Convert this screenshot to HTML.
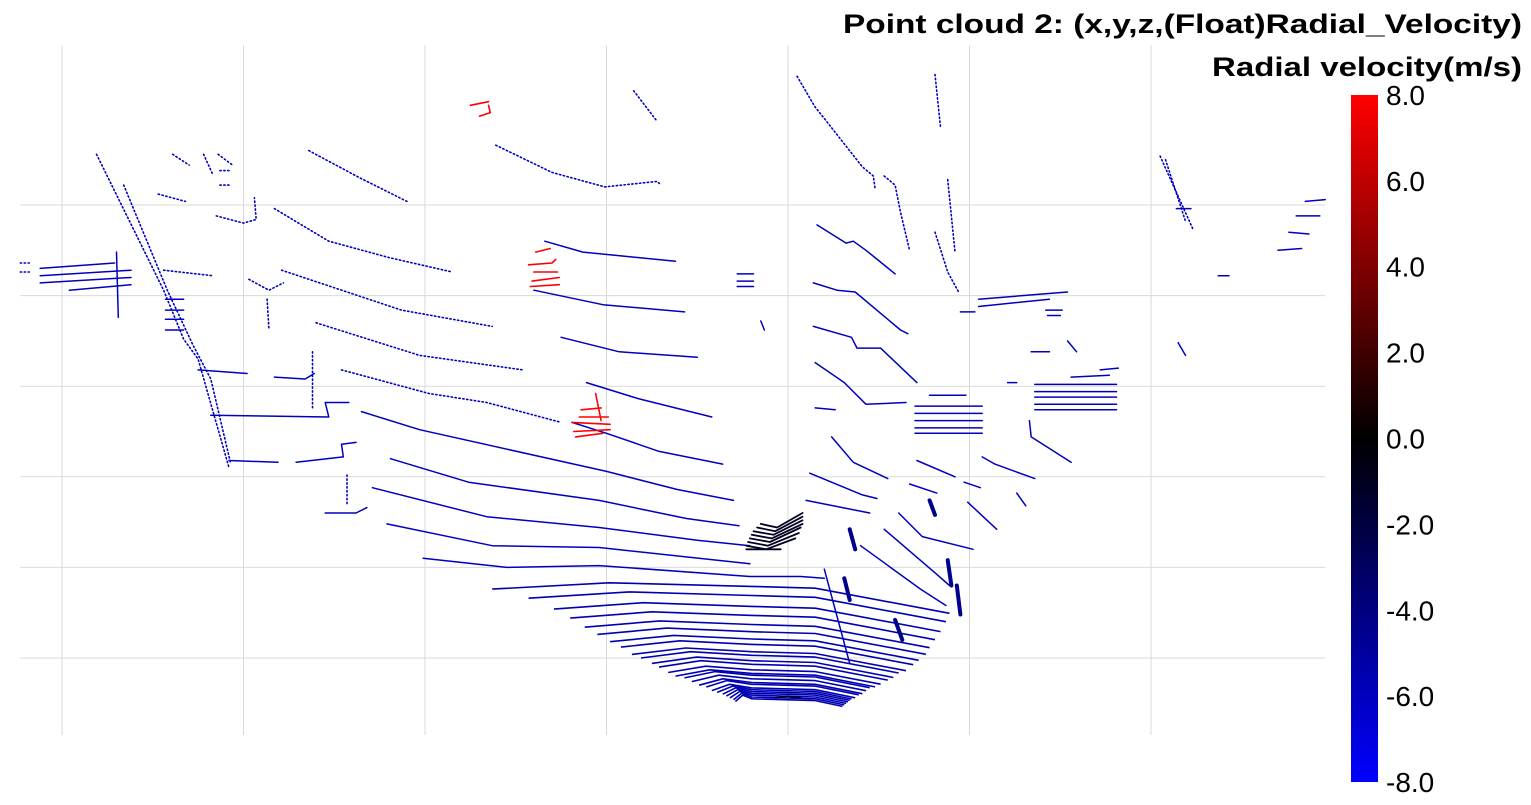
<!DOCTYPE html>
<html><head><meta charset="utf-8"><style>
html,body{margin:0;padding:0;background:#fff;}
svg{display:block;font-family:"Liberation Sans",Arial,sans-serif;}
</style></head><body>
<svg id="chart" width="1531" height="805" viewBox="0 0 1531 805" xmlns="http://www.w3.org/2000/svg">
<defs>
<linearGradient id="cbgrad" x1="0" y1="1" x2="0" y2="0">
<stop offset="0" stop-color="#0000ff"/><stop offset="0.5" stop-color="#000000"/><stop offset="1" stop-color="#ff0000"/>
</linearGradient>
</defs>
<g id="grid"></g>
<g id="cloud"></g>
<g id="cbar"></g>
<text x="1522" y="33" text-anchor="end" font-size="27" font-weight="bold" textLength="679" lengthAdjust="spacingAndGlyphs">Point cloud 2: (x,y,z,(Float)Radial_Velocity)</text>
<text x="1522" y="76" text-anchor="end" font-size="27" font-weight="bold" textLength="310" lengthAdjust="spacingAndGlyphs">Radial velocity(m/s)</text>
</svg>
<script>
// axis ticks
const xTicks = [-40,-30,-20,-10,0,10,20];
const yTicks = [0,5,10,15,20,25];
const cbTicks = [8,6,4,2,0,-2,-4,-6,-8];
const cbLabels = ["8.0","6.0","4.0","2.0","0.0","-2.0","-4.0","-6.0","-8.0"];
// sparse far scan lines (dotted) : [velocity, [x,y,...]]
const sparseSegs = [
 [-6,[-26.4,28.0,-23.6,26.5,-21.0,25.2]],
 [-6,[-28.3,24.8,-25.3,23.0,-22.0,22.1,-18.5,21.3]],
 [-6,[-27.9,21.4,-21.3,19.2,-16.3,18.3]],
 [-6,[-26.0,18.5,-20.3,16.7,-14.6,15.9]],
 [-6,[-24.6,15.9,-19.8,14.6,-16.6,14.1,-12.5,13.0]],
 [-6,[-16.1,28.3,-13.0,26.8,-10.1,26.0,-7.2,26.3,-7.0,26.1]],
 [-6,[-8.5,31.3,-7.2,29.6]],
 [-6,[0.5,32.1,1.5,30.4,1.9,29.9,4.1,27.1,4.7,26.6,4.8,25.9]],
 [-6,[5.3,26.6,5.9,26.1,6.2,24.6,6.7,22.5]],
 [-6,[8.1,32.2,8.4,29.3]],
 [-6,[8.8,26.4,9.2,22.4]],
 [-6,[8.1,23.5,8.8,21.3,9.4,20.2]],
 [-6,[-38.1,27.8,-34.4,20.3,-33.3,17.6,-32.5,16.5,-30.8,10.5]],
 [-6,[-36.6,26.1,-34.2,20.3,-32.8,17.3,-31.8,15.4,-30.7,10.7]],
 [-6,[-33.9,27.8,-33.0,27.2]],[-6,[-32.2,27.8,-31.7,26.7]],[-6,[-31.4,27.8,-30.6,27.2]],
 [-6,[-31.3,26.1,-30.7,26.1]],[-6,[-31.3,26.9,-30.7,26.9]],
 [-6,[-34.7,25.6,-33.2,25.2]],
 [-6,[-31.5,24.4,-30.0,24.0,-29.3,24.2,-29.4,25.4]],
 [-6,[-34.4,21.4,-31.7,21.1]],
 [-6,[-29.7,20.9,-28.6,20.3,-27.8,20.7]],[-6,[-28.7,19.8,-28.6,18.2]],
 [-6,[-42.3,21.8,-41.8,21.8]],[-6,[-42.3,21.3,-41.8,21.3]],
 [-6,[-26.2,16.9,-26.2,13.7]],
 [-6,[-24.3,10.1,-24.3,8.4]],
 [-6,[20.5,27.7,22.3,23.7]],[-6,[20.8,27.5,21.9,24.1]]
];
// solid scan lines
const solidSegs = [
 [-6,[-11.9,13.0,-10.0,12.4,-7.1,11.4,-3.6,10.7]],
 [-6,[-23.5,13.6,-20.3,12.6,-10.0,10.3,-6.1,9.3,-3.0,8.7]],
 [-6,[-21.9,11.0,-17.6,9.7,-10.4,8.7,-5.6,7.7,-2.7,7.3]],
 [-6,[-22.9,9.4,-16.6,7.8,-10.4,7.2,-5.0,6.5,-2.1,6.2]],
 [-6,[-22.1,7.4,-16.3,6.2,-10.4,6.1,-2.1,5.2]],
 [-6,[-20.1,5.5,-15.5,5.0,-10.4,5.1,-2.1,4.5,0.7,4.5,2.0,4.4]],
 [-6,[2.0,4.9,3.4,-0.3]],
 [-6,[-13.4,23.0,-11.3,22.4,-6.2,21.9]],
 [-6,[-14.0,20.3,-10.2,19.5,-5.7,19.1]],
 [-6,[-12.5,17.7,-9.3,16.9,-5.0,16.6]],
 [-6,[-11.1,15.2,-8.2,14.3,-4.2,13.3]],
 [-6,[-2.8,21.2,-1.9,21.2]],[-6,[-2.8,20.8,-1.9,20.8]],[-6,[-2.8,20.5,-1.9,20.5]],
 [-6,[-1.5,18.6,-1.3,18.1]],
 [-6,[10.5,19.8,15.4,20.2]],[-6,[10.5,19.4,14.4,19.8]],[-6,[9.5,19.1,10.3,19.1]],
 [-6,[14.2,19.2,15.1,19.2]],[-6,[14.3,18.9,15.0,18.9]],
 [-6,[1.6,23.9,3.2,22.9,3.6,23.0,4.3,22.5,5.9,21.2]],
 [-6,[1.4,20.7,2.7,20.3,3.7,20.2,6.2,18.1,6.6,17.9]],
 [-6,[1.4,18.3,3.5,17.7,3.8,17.1,5.1,17.1,7.1,15.2]],
 [-6,[1.5,16.3,3.1,15.2,4.3,14.0,6.5,14.1]],
 [-6,[1.5,13.8,2.6,13.7]],
 [-6,[2.4,12.2,3.6,10.8,5.5,9.9]],
 [-6,[1.2,10.2,4.1,9.0,4.9,8.8]],
 [-6,[1.0,8.7,4.5,8.0]],
 [-6,[7.1,10.9,9.2,10.0]],
 [-6,[10.7,11.1,11.4,10.7,13.6,9.9]],
 [-6,[13.3,13.1,13.4,12.2,15.6,10.8]],
 [-6,[6.1,8.0,7.4,6.7,10.2,6.0]],
 [-6,[9.9,8.6,11.5,7.1]],
 [-6,[12.6,9.1,13.1,8.4]],
 [-6,[6.7,9.6,8.2,9.1]],
 [-6,[9.7,9.7,10.6,9.4]],
 [-6,[5.3,7.1,8.1,4.7,8.9,4.0]],
 [-6,[4.0,6.2,7.3,3.8,8.7,2.9]],
 [-6,[7.0,13.9,10.7,13.9]],[-6,[7.0,13.5,10.7,13.5]],[-6,[7.0,13.1,10.7,13.1]],[-6,[7.0,12.7,10.7,12.7]],[-6,[7.0,12.4,10.7,12.4]],
 [-6,[7.8,14.5,9.8,14.5]],
 [-6,[13.6,15.1,18.1,15.1]],[-6,[13.6,14.7,18.1,14.7]],[-6,[13.6,14.4,18.1,14.4]],[-6,[13.6,14.0,18.1,14.0]],[-6,[13.6,13.7,18.1,13.7]],
 [-6,[15.6,15.5,17.7,15.6]],
 [-6,[21.4,24.8,22.2,24.8]],
 [-6,[28.5,25.2,29.6,25.3]],[-6,[28.0,24.4,29.3,24.4]],[-6,[27.6,23.5,28.7,23.4]],[-6,[27.0,22.5,28.3,22.6]],[-6,[23.7,21.1,24.3,21.1]],
 [-6,[21.5,17.4,21.9,16.7]],[-6,[15.4,17.5,15.9,16.9]],[-6,[17.2,15.9,18.2,16.0]],[-6,[12.1,15.2,12.6,15.2]],[-6,[13.4,16.9,14.4,16.9]],
 [-6,[-41.2,21.5,-37.1,21.8]],[-6,[-41.2,21.1,-36.2,21.4]],[-6,[-41.2,20.7,-36.2,21.0]],[-6,[-39.6,20.3,-36.2,20.6]],
 [-6,[-37.0,22.4,-36.9,18.8]],
 [-6,[-34.3,19.8,-33.3,19.8]],[-6,[-34.3,19.2,-33.3,19.2]],[-6,[-34.3,18.7,-33.3,18.7]],[-6,[-34.3,18.1,-33.3,18.1]],
 [-6,[-32.5,15.9,-29.8,15.7]],
 [-6,[-31.8,13.4,-25.3,13.3,-25.5,14.1,-24.2,14.1]],
 [-6,[-30.8,10.9,-28.1,10.8]],
 [-6,[-27.1,10.8,-24.5,11.1,-24.6,11.8,-23.8,11.9]],
 [-6,[-28.3,15.5,-26.6,15.4,-26.1,15.7]],
 [-6,[-25.5,8.0,-23.8,8.0,-23.2,8.3]]
];
// red moving objects
const redSegs = [
 [8,[-14.3,21.7,-13.0,21.8,-12.8,22.0]],[8,[-14.1,20.8,-12.6,21.0]],[8,[-14.2,20.5,-12.6,20.6]],
 [8,[-13.9,22.4,-13.1,22.6]],[8,[-14.0,21.3,-12.7,21.3]],
 [8,[-11.7,12.2,-10.2,12.4]],[8,[-11.8,12.5,-9.8,12.6]],[8,[-11.9,13.0,-9.8,12.9]],
 [8,[-11.5,13.3,-9.9,13.3]],[8,[-11.4,13.7,-10.3,13.8]],[8,[-10.6,14.6,-10.3,13.1]],
 [8,[-17.5,30.5,-16.5,30.7]],[8,[-17.0,29.9,-16.4,30.1,-16.5,30.5]]
];
// dark car & near objects
const darkSegs = [
 [-1,[-1.5,7.4,-0.6,7.2,0.8,8.0]],[-1,[-1.7,7.2,-0.7,7.0,0.8,7.8]],[-1,[-1.9,7.0,-0.8,6.8,0.8,7.6]],
 [-1,[-2.0,6.8,-0.9,6.6,0.8,7.4]],[-1,[-2.1,6.6,-1.0,6.4,0.7,7.2]],[-1,[-2.2,6.4,-1.1,6.2,0.6,6.9]],
 [-1,[-2.3,6.2,-1.2,6.0,0.4,6.6]],[-1,[-2.3,6.0,-0.4,6.0]],
 [-1,[-0.7,-2.2,0,-2.1,0.7,-2.2]]
];
const peds = [
 [-4.5,[3.4,7.1,3.7,6.0]],[-4.5,[3.1,4.4,3.4,3.2]],[-4.5,[5.9,2.1,6.3,1.0]],
 [-4.5,[8.8,5.4,9.0,4.0]],[-4.5,[9.3,4.0,9.5,2.4]],[-4.5,[7.8,8.7,8.1,7.9]]
];
// near-field scan rings (fan)
const ringY = [3.9,3.4,2.8,2.3,1.8,1.4,1.0,0.7,0.3,0.1,-0.2,-0.4,-0.7,-0.9,-1.0,-1.2,-1.4,-1.5,-1.7,-1.8,-1.9,-2.0,-2.1,-2.2,-2.3];
const ringLeft = [-16.3,-14.3,-12.9,-12.0,-11.2,-10.5,-9.8,-9.2,-8.6,-8.1,-7.5,-7.1,-6.6,-6.2,-5.7,-5.3,-4.9,-4.5,-4.2,-3.9,-3.6,-3.4,-3.2,-3.0,-2.9];
const ringRight = [8.9,8.7,8.4,8.1,7.8,7.6,7.2,6.9,6.5,6.1,5.8,5.5,5.1,4.8,4.5,4.3,4.1,3.9,3.7,3.5,3.4,3.3,3.2,3.1,3.0];

const NS='http://www.w3.org/2000/svg';
function sx(v){return 788+v*18.15;}
function sy(v){return 658-v*18.12;}
function cy(v){return 438.5-v*42.94;}
function vcol(v){
  const t=Math.min(1,Math.abs(v)/8);
  const c=Math.round(t*255);
  return v>=0?`rgb(${c},0,0)`:`rgb(0,0,${c})`;
}
function mk(tag,attrs,parent){
  const e=document.createElementNS(NS,tag);
  for(const k in attrs)e.setAttribute(k,attrs[k]);
  parent.appendChild(e);return e;
}
const grid=document.getElementById('grid');
xTicks.forEach(t=>{
  const l=mk('line',{x1:sx(t),x2:sx(t),y1:sy(33.8),y2:sy(-4.25),stroke:'#d9d9d9','stroke-width':1},grid);
  
  
});
yTicks.forEach(t=>{
  const l=mk('line',{x1:sx(-42.3),x2:sx(29.6),y1:sy(t),y2:sy(t),stroke:'#d9d9d9','stroke-width':1},grid);
  
  
});
const cloud=document.getElementById('cloud');
function ptsStr(a){let s=[];for(let i=0;i<a.length;i+=2)s.push(sx(a[i]).toFixed(1)+','+sy(a[i+1]).toFixed(1));return s.join(' ');}
function drawSegs(arr,name,w,dash){
  arr.forEach(sg=>{
    const p=mk('polyline',{points:ptsStr(sg[1]),fill:'none',stroke:vcol(sg[0]),'stroke-width':w,'stroke-linecap':'round','stroke-linejoin':'round'},cloud);
    if(dash)p.setAttribute('stroke-dasharray',dash);
    
    
  });
}
// rings
ringY.forEach((y,i)=>{
  const L=ringLeft[i],R=ringRight[i];
  const pts=[L,y-0.1, L+(-2-L)*0.45,y+0.25, -2,y+0.05, 1.5,y-0.05, R,y-0.1-(R-1.5)*0.18];
  const p=mk('polyline',{points:ptsStr(pts),fill:'none',stroke:vcol(-5.6),'stroke-width':1.6,'stroke-linejoin':'round'},cloud);
  
  
});
drawSegs(sparseSegs,'sparse-scan-line',1.6,'1.3 2.6');
drawSegs(solidSegs,'scan-line',1.5,null);
drawSegs(redSegs,'moving-object-points',1.6,null);
drawSegs(darkSegs,'car-points',1.8,null);
drawSegs(peds,'pedestrian-points',4,null);
// colorbar
const cb=document.getElementById('cbar');
const r=mk('rect',{x:1351,y:cy(8),width:27,height:cy(-8)-cy(8),fill:'url(#cbgrad)'},cb);


cbTicks.forEach((t,i)=>{
  const tx=mk('text',{x:1386,y:cy(t)+10,'font-size':28},cb);
  tx.textContent=cbLabels[i];
  
  
});
</script>
</body></html>
